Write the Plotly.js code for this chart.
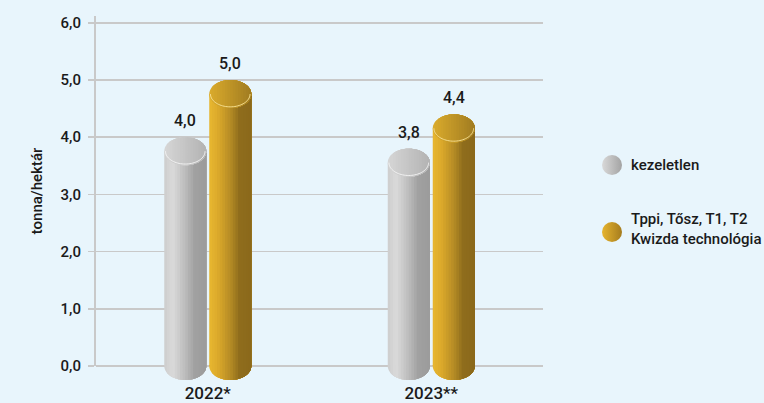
<!DOCTYPE html>
<html>
<head>
<meta charset="utf-8">
<script src="https://cdn.plot.ly/plotly-3.0.1.min.js"></script>
<style>
  html, body { margin: 0; padding: 0; background: #e8f5fc; }
  #chart { width: 764px; height: 403px; }
</style>
</head>
<body>
<div id="chart"></div>
<script>
// ---------------- data ----------------
const categories = ['2022*', '2023**'];
const seriesNames = ['kezeletlen', 'Tppi, Tősz, T1, T2<br>Kwizda technológia'];
const untreated = [4.0, 3.8];
const treated = [5.0, 4.4];
const yTickVals = [0, 1, 2, 3, 4, 5, 6];
const yTitle = 'tonna/hektár';

// ---------------- style ----------------
const FONT = 'Roboto, "Noto Sans", sans-serif';
const WEIGHT = 500;
const BG = '#e8f5fc';
const GRID = '#c9c9c9';
const TXT = '#1a1a1a';
const W = 764, H = 403;
const M = { l: 96, r: 0, t: 16, b: 37 };
const PLOT_W = 447;                       // width of the bar plotting area in px
const AREA_W = W - M.l - M.r;
const X_DOMAIN_END = PLOT_W / AREA_W;
const Y_MAX = 6.12;
const PX_PER_Y = (H - M.t - M.b) / Y_MAX;
const PX_PER_CAT = PLOT_W / 2;
const BAR_W = 42, BAR_GAP = 3, RX = BAR_W / 2, RY = 14;
const N_STRIPES = 16;

const series = [
  { name: seriesNames[0], values: untreated,
    body: [[0,'#cdcdcd'],[0.2,'#dadada'],[0.5,'#bcbcbc'],[0.72,'#a1a1a1'],[1,'#9b9b9b']],
    cap:  [[0,'#d6d6d6'],[1,'#b3b3b3']], rim: '#f2f2f2',
    legend: ['#d9d9d9', '#a3a3a3'] },
  { name: seriesNames[1], values: treated,
    body: [[0,'#e8b730'],[0.2,'#dcaa2b'],[0.5,'#b68c25'],[0.72,'#8f6d1c'],[1,'#8a691b']],
    cap:  [[0,'#dbab2c'],[1,'#a07c21']], rim: '#f6de8e',
    legend: ['#e6b42f', '#a57c1e'] }
];

function hex2rgb(h) { return [1,3,5].map(i => parseInt(h.slice(i, i + 2), 16)); }
function grad(stops, t) {
  for (let i = 0; i < stops.length - 1; i++) {
    const [t0, c0] = stops[i], [t1, c1] = stops[i + 1];
    if (t <= t1) {
      const f = (t - t0) / (t1 - t0), a = hex2rgb(c0), b = hex2rgb(c1);
      return 'rgb(' + a.map((v, k) => Math.round(v + (b[k] - v) * f)).join(',') + ')';
    }
  }
  return stops[stops.length - 1][1];
}
const fmt = v => v.toFixed(1).replace('.', ',');
const P = p => p[0].toFixed(2) + ',' + p[1].toFixed(2);

// part of an ellipse (centre 0,cy) lying right of x = a, as a pixel path
function ellipseRegion(a, cy) {
  const th = Math.acos(Math.max(-1, Math.min(1, a / RX)));
  const pts = [];
  const K = 28;
  for (let i = 0; i <= K; i++) { const t = th - (th * i / K); pts.push([RX * Math.cos(t), cy + RY * Math.sin(t)]); }
  for (let i = 1; i <= K; i++) { const t = -(th * i / K); pts.push([RX * Math.cos(t), cy + RY * Math.sin(t)]); }
  return 'M' + pts.map(P).join('L') + 'Z';
}
// lower half of that region only (with a 1px overlap upwards)
function lowerRegion(a, cy) {
  const th = Math.acos(Math.max(-1, Math.min(1, a / RX)));
  const pts = [[a, cy + 1], [RX, cy + 1]];
  const K = 28;
  for (let i = 0; i <= K; i++) { const t = -(th * i / K); pts.push([RX * Math.cos(t), cy + RY * Math.sin(t)]); }
  return 'M' + pts.map(P).join('L') + 'Z';
}
function lowerArc(cy, inset) {
  const pts = [];
  for (let i = 0; i <= 40; i++) { const t = Math.PI + Math.PI * i / 40; pts.push([(RX - inset) * Math.cos(t), cy + (RY - inset) * Math.sin(t)]); }
  return 'M' + pts.map(P).join('L');
}

const traces = [];
const shapes = [];
const annotations = [];
const ryUnits = RY / PX_PER_Y;

series.forEach((s, si) => {
  const left = si === 0 ? -(BAR_GAP / 2 + BAR_W) : BAR_GAP / 2;
  const centreOff = (left + RX) / PX_PER_CAT;
  // body: stripes, painter's order
  for (let j = 0; j < N_STRIPES; j++) {
    const start = left + j * BAR_W / N_STRIPES;
    traces.push({
      type: 'bar', x: categories, y: s.values.map(v => v - ryUnits),
      offset: start / PX_PER_CAT, width: (left + BAR_W - start) / PX_PER_CAT,
      marker: { color: grad(s.body, (j + 0.5) / N_STRIPES), line: { width: 0 } },
      showlegend: false, hoverinfo: 'skip', name: s.name
    });
  }
  s.values.forEach((v, ci) => {
    const xa = ci + centreOff;
    for (let j = 0; j < N_STRIPES; j++) {
      const a = -RX + j * BAR_W / N_STRIPES;
      // bottom cap under the zero line (paper y = 0 is the value 0, so it is not clipped)
      shapes.push({ type: 'path', layer: 'above', xref: 'x', yref: 'paper',
        xsizemode: 'pixel', ysizemode: 'pixel', xanchor: xa, yanchor: 0,
        path: lowerRegion(a, 0), fillcolor: grad(s.body, (j + 0.5) / N_STRIPES), line: { width: 0 } });
    }
    for (let j = 0; j < N_STRIPES; j++) {
      const a = -RX + j * BAR_W / N_STRIPES;
      shapes.push({ type: 'path', layer: 'above', xref: 'x', yref: 'y',
        xsizemode: 'pixel', ysizemode: 'pixel', xanchor: xa, yanchor: v,
        path: ellipseRegion(a, -RY), fillcolor: grad(s.cap, (j + 0.5) / N_STRIPES), line: { width: 0 } });
    }
    shapes.push({ type: 'path', layer: 'above', xref: 'x', yref: 'y',
      xsizemode: 'pixel', ysizemode: 'pixel', xanchor: xa, yanchor: v,
      path: lowerArc(-RY, 1.2), line: { color: s.rim, width: 1 } });
    annotations.push({ xref: 'x', yref: 'y', x: xa, y: v, text: fmt(v), showarrow: false,
      yanchor: 'bottom', yshift: 5, font: { family: FONT, size: 16, color: TXT, weight: WEIGHT } });
  });
});

// legend (drawn on a helper axis pair, in screen-pixel units)
const LEG_X = 612, LEG_TX = 629, LEG_Y = [165, 232], LEG_TY = [165, 229];
traces.push({
  type: 'scatter', mode: 'markers', xaxis: 'x2', yaxis: 'y2',
  x: [LEG_X, LEG_X], y: LEG_Y, cliponaxis: false,
  marker: { size: 20, color: series.map(s => s.legend[0]),
            gradient: { type: 'horizontal', color: series.map(s => s.legend[1]) }, line: { width: 0 } },
  showlegend: false, hoverinfo: 'skip'
});
series.forEach((s, si) => {
  annotations.push({ xref: 'x2', yref: 'y2', x: LEG_TX, y: LEG_TY[si], text: s.name,
    xanchor: 'left', yanchor: 'middle', align: 'left', showarrow: false,
    font: { family: FONT, size: 15, color: TXT, weight: WEIGHT } });
});

const layout = {
  width: W, height: H, margin: M,
  paper_bgcolor: BG, plot_bgcolor: BG,
  separators: ', ',
  barmode: 'overlay', showlegend: false,
  font: { family: FONT, color: TXT },
  xaxis: { type: 'category', domain: [0, X_DOMAIN_END], range: [-0.5, 1.5],
    showgrid: false, zeroline: false, showline: false, ticks: '',
    ticklabelstandoff: 15, tickfont: { family: FONT, size: 17, color: TXT, weight: WEIGHT }, fixedrange: true },
  yaxis: { range: [0, Y_MAX], tickvals: yTickVals, tickformat: '.1f',
    showgrid: true, gridcolor: GRID, gridwidth: 1.5,
    zeroline: true, zerolinecolor: GRID, zerolinewidth: 1.5,
    showline: true, linecolor: GRID, linewidth: 2,
    ticks: 'outside', ticklen: 6, tickcolor: GRID, tickwidth: 1.5,
    ticklabelstandoff: 4,
    tickfont: { family: FONT, size: 15, color: TXT, weight: WEIGHT },
    title: { text: yTitle, standoff: 14, font: { family: FONT, size: 15, color: TXT, weight: WEIGHT } } },
  xaxis2: { domain: [X_DOMAIN_END, 1], range: [M.l + PLOT_W, W], anchor: 'y2', visible: false, fixedrange: true },
  yaxis2: { domain: [0, 1], range: [H - M.b, M.t], anchor: 'x2', visible: false, fixedrange: true },
  shapes: shapes, annotations: annotations
};

Plotly.newPlot('chart', traces, layout, { staticPlot: true, displayModeBar: false });
</script>
</body>
</html>
